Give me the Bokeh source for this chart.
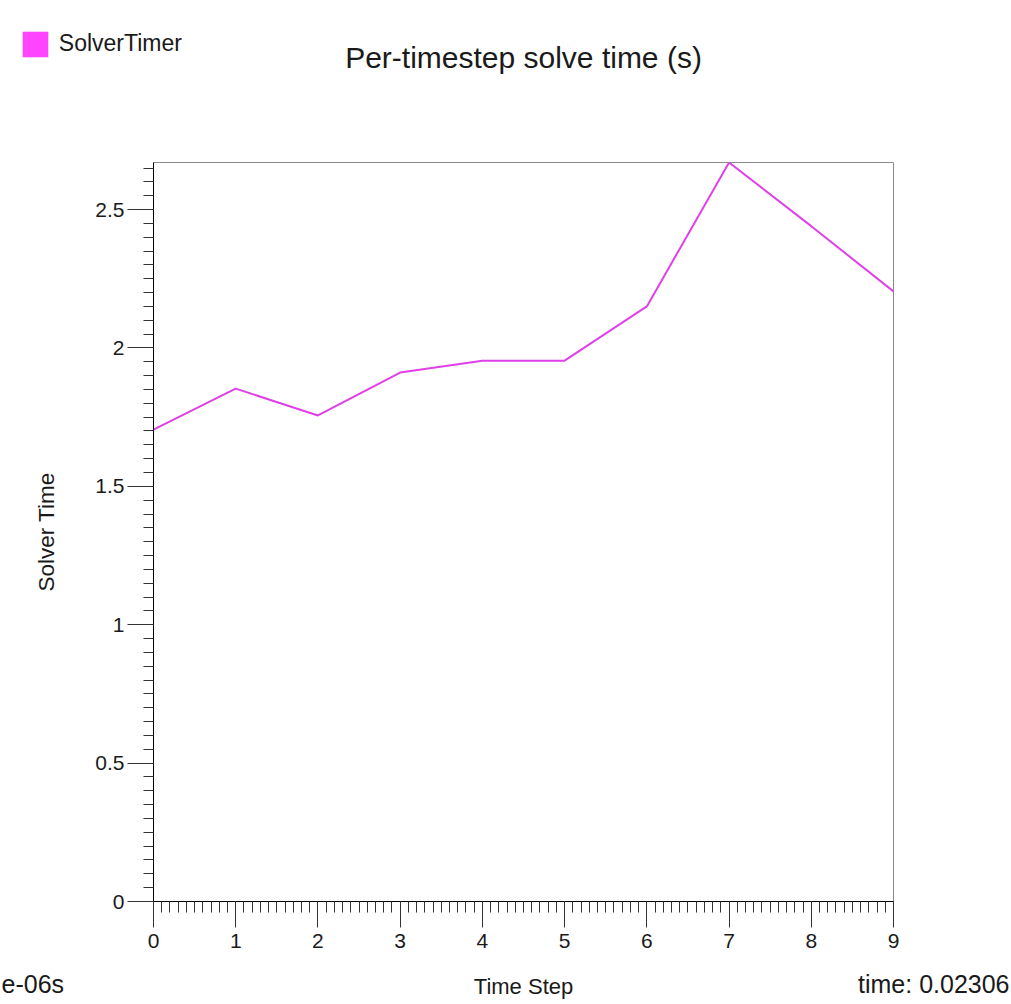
from bokeh.plotting import figure
from bokeh.models import (Range1d, SingleIntervalTicker, Label, Legend, LegendItem,
                          ColumnDataSource)
from bokeh.layouts import column
from bokeh.embed import file_html
from bokeh.resources import INLINE

# ---- data ----
time_step = [0, 1, 2, 3, 4, 5, 6, 7, 8, 9]
solver_time = [1.705, 1.853, 1.756, 1.911, 1.954, 1.954, 2.150, 2.670, 2.440, 2.204]
y_tick_values = [0, 0.5, 1, 1.5, 2, 2.5]
y_tick_labels = ["0", "0.5", "1", "1.5", "2", "2.5"]
series_name = "SolverTimer"
chart_title = "Per-timestep solve time (s)"
x_label = "Time Step"
y_label = "Solver Time"
left_note = "e-06s"
right_note = "time: 0.02306"

FONT = "Liberation Sans"
TXT = "#1a1a1a"
LINE_COLOR = "#e040e8"
SWATCH = "#ff44ff"

W = 1011
TOP_H = 130          # header strip (legend + title)
BOT_H = 42           # footer strip (notes + x title)
FL, FW = 153, 740    # frame left / width (page px)
FT_IN, FH = 32, 739  # frame top inside main figure / frame height
MAIN_BOTTOM = 59
MAIN_H = FT_IN + FH + MAIN_BOTTOM


def strip(height):
    f = figure(width=W, height=height, output_backend="svg", toolbar_location=None,
               x_range=Range1d(0, W), y_range=Range1d(height, 0),
               x_axis_location=None, y_axis_location=None, min_border=0,
               frame_align=False)
    f.outline_line_color = None
    f.grid.visible = False
    f.background_fill_color = "white"
    f.border_fill_color = "white"
    return f


# ---------------- header ----------------
top = strip(TOP_H)
nan = float("nan")
sw = top.quad(left=[nan], right=[nan], top=[nan], bottom=[nan],
              fill_color=SWATCH, line_color=None)
legend = Legend(items=[LegendItem(label=series_name, renderers=[sw])],
                location=(18.8, TOP_H - 59.8),
                glyph_width=32, glyph_height=32, label_standoff=8,
                padding=0, margin=0, spacing=0,
                border_line_color=None, background_fill_alpha=0,
                label_text_font=FONT, label_text_font_size="23px",
                label_text_color=TXT)
top.add_layout(legend, "center")
top.add_layout(Label(x=FL + FW / 2, y=57, text=chart_title, text_font=FONT,
                     text_font_size="30px", text_color=TXT,
                     text_align="center", text_baseline="middle"))

# ---------------- main chart ----------------
p = figure(output_backend="svg", toolbar_location=None,
           frame_width=FW, frame_height=FH,
           x_range=Range1d(0, 9), y_range=Range1d(0, 2.67),
           min_border_left=FL, min_border_top=FT_IN,
           min_border_right=W - FL - FW, min_border_bottom=MAIN_BOTTOM,
           frame_align=False)
p.xgrid.visible = False
p.ygrid.visible = False
p.outline_line_color = "#8a8a8a"
p.background_fill_color = "white"
p.border_fill_color = "white"

src = ColumnDataSource(dict(x=time_step, y=solver_time))
p.line("x", "y", source=src, line_color=LINE_COLOR, line_width=2)

xa = p.xaxis[0]
xa.ticker = SingleIntervalTicker(interval=1, num_minor_ticks=10)
xa.major_tick_in = 0
xa.major_tick_out = 26
xa.minor_tick_in = 0
xa.minor_tick_out = 11
xa.axis_line_color = "black"
xa.major_tick_line_color = "#333333"
xa.minor_tick_line_color = "#333333"
xa.major_label_text_font = FONT
xa.major_label_text_font_size = "21px"
xa.major_label_text_color = TXT
xa.major_label_standoff = 6

ya = p.yaxis[0]
ya.ticker = SingleIntervalTicker(interval=0.5, num_minor_ticks=10)
ya.major_label_overrides = {v: s for v, s in zip(y_tick_values, y_tick_labels)}
ya.major_tick_in = 0
ya.major_tick_out = 26
ya.minor_tick_in = 0
ya.minor_tick_out = 10
ya.axis_line_color = "black"
ya.major_tick_line_color = "#333333"
ya.minor_tick_line_color = "#333333"
ya.major_label_text_font = FONT
ya.major_label_text_font_size = "21px"
ya.major_label_text_color = TXT
ya.major_label_standoff = 3
ya.axis_label = y_label
ya.axis_label_text_font = FONT
ya.axis_label_text_font_size = "22.5px"
ya.axis_label_text_font_style = "normal"
ya.axis_label_text_color = TXT
ya.axis_label_standoff = 33

# ---------------- footer ----------------
bot = strip(BOT_H)
y_row = 983 - (TOP_H + MAIN_H)
bot.add_layout(Label(x=1, y=y_row, text=left_note, text_font=FONT,
                     text_font_size="25px", text_color=TXT,
                     text_align="left", text_baseline="middle"))
bot.add_layout(Label(x=1009, y=y_row, text=right_note, text_font=FONT,
                     text_font_size="25px", text_color=TXT,
                     text_align="right", text_baseline="middle"))
bot.add_layout(Label(x=FL + FW / 2, y=y_row + 3, text=x_label, text_font=FONT,
                     text_font_size="22px", text_color=TXT,
                     text_align="center", text_baseline="middle"))

layout = column(top, p, bot, spacing=0)
open("out.html", "w").write(file_html(layout, INLINE))
